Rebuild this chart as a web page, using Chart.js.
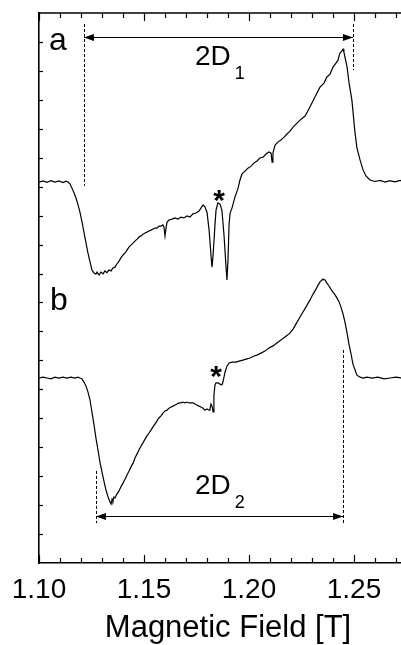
<!DOCTYPE html>
<html>
<head>
<meta charset="utf-8">
<script src="https://cdn.jsdelivr.net/npm/chart.js@4.4.1/dist/chart.umd.min.js"></script>
<style>
  html, body { margin: 0; padding: 0; background: #fff; overflow: hidden; }
  canvas { display: block; }
</style>
</head>
<body>
<canvas id="epr" width="420" height="645"></canvas>
<script>
// spectrum a (field in T, signal in arb. units)
const fieldA = [
  1.1000, 1.1019, 1.1038, 1.1057, 1.1076, 1.1095, 1.1114, 1.1129, 1.1138, 1.1148,
  1.1157, 1.1167, 1.1176, 1.1186, 1.1195, 1.1205, 1.1214, 1.1224, 1.1233, 1.1243,
  1.1252, 1.1262, 1.1271, 1.1276, 1.1286, 1.1295, 1.1305, 1.1314, 1.1324, 1.1333,
  1.1343, 1.1352, 1.1362, 1.1371, 1.1381, 1.1390, 1.1400, 1.1410, 1.1419, 1.1429,
  1.1438, 1.1448, 1.1457, 1.1467, 1.1476, 1.1486, 1.1495, 1.1505, 1.1514, 1.1524,
  1.1533, 1.1543, 1.1552, 1.1562, 1.1571, 1.1581, 1.1590, 1.1595, 1.1600, 1.1605,
  1.1610, 1.1619, 1.1633, 1.1648, 1.1662, 1.1676, 1.1690, 1.1705, 1.1719, 1.1733,
  1.1748, 1.1762, 1.1771, 1.1781, 1.1790, 1.1800, 1.1810, 1.1819, 1.1824, 1.1829,
  1.1838, 1.1843, 1.1852, 1.1862, 1.1871, 1.1881, 1.1890, 1.1895, 1.1900, 1.1905,
  1.1910, 1.1919, 1.1933, 1.1948, 1.1957, 1.1967, 1.1981, 1.1995, 1.2010, 1.2024,
  1.2038, 1.2052, 1.2067, 1.2081, 1.2095, 1.2105, 1.2110, 1.2114, 1.2124, 1.2138,
  1.2152, 1.2167, 1.2181, 1.2195, 1.2210, 1.2224, 1.2243, 1.2267, 1.2290, 1.2314,
  1.2338, 1.2357, 1.2371, 1.2386, 1.2400, 1.2414, 1.2424, 1.2433, 1.2443, 1.2448,
  1.2452, 1.2457, 1.2467, 1.2476, 1.2490, 1.2505, 1.2514, 1.2529, 1.2543, 1.2557,
  1.2576, 1.2600, 1.2624, 1.2648, 1.2671, 1.2695, 1.2719, 1.2743, 1.2767, 1.2800
];
const signalA = [
  13.16, 13.20, 13.15, 13.21, 13.16, 13.20, 13.14, 13.19, 13.16, 13.09,
  12.95, 12.78, 12.61, 12.37, 12.12, 11.78, 11.43, 11.05, 10.71, 10.40,
  10.12, 10.02, 9.98, 10.05, 9.95, 10.05, 9.99, 10.09, 10.03, 10.12,
  10.09, 10.19, 10.22, 10.33, 10.43, 10.54, 10.64, 10.71, 10.81, 10.92,
  10.98, 11.05, 11.12, 11.19, 11.26, 11.30, 11.36, 11.40, 11.43, 11.47,
  11.50, 11.54, 11.57, 11.57, 11.64, 11.64, 11.68, 11.61, 11.30, 11.57,
  11.78, 11.85, 11.88, 11.92, 11.88, 11.95, 11.92, 11.99, 11.95, 12.06,
  12.09, 12.16, 12.26, 12.37, 12.30, 12.12, 11.50, 10.64, 10.22, 10.64,
  11.68, 12.19, 12.44, 12.40, 12.19, 11.33, 10.29, 9.78, 10.47, 11.68,
  12.09, 12.26, 12.64, 12.95, 13.23, 13.44, 13.54, 13.64, 13.71, 13.82,
  13.89, 13.99, 14.02, 14.13, 14.20, 14.16, 13.85, 14.16, 14.44, 14.54,
  14.61, 14.71, 14.82, 14.92, 15.06, 15.16, 15.30, 15.44, 15.75, 16.10,
  16.44, 16.58, 16.79, 16.89, 17.13, 17.27, 17.37, 17.62, 17.69, 17.75,
  17.65, 17.48, 17.13, 16.61, 15.99, 14.85, 14.34, 13.92, 13.58, 13.37,
  13.23, 13.18, 13.22, 13.16, 13.21, 13.17, 13.22, 13.17, 13.20, 13.18
];

// spectrum b
const fieldB = [
  1.1000, 1.1019, 1.1038, 1.1057, 1.1076, 1.1095, 1.1114, 1.1133, 1.1152, 1.1171,
  1.1186, 1.1195, 1.1205, 1.1214, 1.1224, 1.1233, 1.1243, 1.1252, 1.1262, 1.1271,
  1.1281, 1.1290, 1.1300, 1.1310, 1.1319, 1.1329, 1.1338, 1.1343, 1.1348, 1.1352,
  1.1357, 1.1362, 1.1371, 1.1381, 1.1390, 1.1400, 1.1410, 1.1419, 1.1429, 1.1438,
  1.1448, 1.1457, 1.1467, 1.1476, 1.1486, 1.1495, 1.1505, 1.1514, 1.1524, 1.1533,
  1.1543, 1.1552, 1.1562, 1.1571, 1.1581, 1.1590, 1.1600, 1.1610, 1.1619, 1.1629,
  1.1638, 1.1648, 1.1657, 1.1667, 1.1676, 1.1686, 1.1695, 1.1705, 1.1714, 1.1724,
  1.1733, 1.1743, 1.1752, 1.1762, 1.1771, 1.1781, 1.1790, 1.1800, 1.1810, 1.1814,
  1.1819, 1.1824, 1.1829, 1.1833, 1.1838, 1.1843, 1.1852, 1.1862, 1.1871, 1.1876,
  1.1886, 1.1895, 1.1905, 1.1919, 1.1938, 1.1957, 1.1971, 1.1990, 1.2005, 1.2024,
  1.2038, 1.2057, 1.2076, 1.2095, 1.2114, 1.2133, 1.2152, 1.2171, 1.2195, 1.2210,
  1.2224, 1.2243, 1.2257, 1.2271, 1.2290, 1.2305, 1.2319, 1.2329, 1.2338, 1.2348,
  1.2352, 1.2362, 1.2371, 1.2381, 1.2390, 1.2400, 1.2410, 1.2419, 1.2429, 1.2438,
  1.2448, 1.2457, 1.2467, 1.2476, 1.2486, 1.2495, 1.2505, 1.2514, 1.2529, 1.2543,
  1.2562, 1.2586, 1.2614, 1.2643, 1.2671, 1.2700, 1.2729, 1.2757, 1.2800
];
const signalB = [
  6.39, 6.42, 6.39, 6.36, 6.42, 6.39, 6.42, 6.39, 6.42, 6.39,
  6.42, 6.39, 6.36, 6.25, 6.11, 5.91, 5.63, 5.22, 4.77, 4.32,
  3.90, 3.49, 3.14, 2.80, 2.52, 2.28, 2.11, 2.04, 2.21, 2.14,
  2.28, 2.25, 2.38, 2.49, 2.63, 2.76, 2.90, 3.04, 3.18, 3.32,
  3.45, 3.63, 3.77, 3.90, 4.04, 4.15, 4.28, 4.39, 4.49, 4.59,
  4.70, 4.80, 4.91, 5.01, 5.08, 5.18, 5.25, 5.28, 5.35, 5.39,
  5.42, 5.46, 5.49, 5.53, 5.53, 5.56, 5.53, 5.56, 5.53, 5.53,
  5.53, 5.49, 5.46, 5.42, 5.39, 5.35, 5.28, 5.32, 5.28, 5.32,
  5.49, 5.42, 5.22, 5.80, 6.15, 6.22, 6.22, 6.18, 6.15, 6.25,
  6.60, 6.80, 6.91, 6.94, 6.94, 6.98, 7.01, 7.05, 7.08, 7.15,
  7.18, 7.25, 7.32, 7.43, 7.50, 7.60, 7.70, 7.81, 7.94, 8.08,
  8.26, 8.50, 8.67, 8.84, 9.08, 9.29, 9.46, 9.60, 9.71, 9.78,
  9.81, 9.78, 9.67, 9.57, 9.46, 9.36, 9.26, 9.15, 9.02, 8.84,
  8.60, 8.32, 7.94, 7.56, 7.22, 6.87, 6.67, 6.49, 6.42, 6.39,
  6.42, 6.39, 6.42, 6.36, 6.39, 6.42, 6.39, 6.42, 6.39
];

// splitting markers (field positions of the 2D arrows)
const span1 = [1.1214, 1.2495];
const span2 = [1.1271, 1.2448];
const xTicks = [1.10, 1.15, 1.20, 1.25];

const FONT = '"Liberation Sans", Arial, sans-serif';

function toPoints(xs, ys) {
  return xs.map((x, i) => ({ x: x, y: ys[i] }));
}

function arrow(ctx, x1, x2, y) {
  ctx.beginPath();
  ctx.moveTo(x1, y);
  ctx.lineTo(x2, y);
  ctx.stroke();
  [[x1, 1], [x2, -1]].forEach(([px, d]) => {
    ctx.beginPath();
    ctx.moveTo(px, y);
    ctx.lineTo(px + d * 10, y - 3.5);
    ctx.lineTo(px + d * 10, y + 3.5);
    ctx.closePath();
    ctx.fill();
  });
}

function dashed(ctx, x, y1, y2) {
  const px = Math.round(x) + 0.5;
  ctx.save();
  ctx.setLineDash([3, 2]);
  ctx.lineWidth = 1;
  ctx.beginPath();
  ctx.moveTo(px, y1);
  ctx.lineTo(px, y2);
  ctx.stroke();
  ctx.restore();
}

// frame, inward ticks and labels
const decorations = {
  id: 'decorations',
  afterDraw(chart) {
    const { ctx, chartArea: a } = chart;
    const x = chart.scales.x, y = chart.scales.y;
    ctx.save();
    ctx.strokeStyle = '#000';
    ctx.fillStyle = '#000';

    // top frame line
    ctx.lineWidth = 1.6;
    ctx.beginPath();
    ctx.moveTo(a.left, a.top);
    ctx.lineTo(a.right, a.top);
    ctx.stroke();

    // minor / major ticks on x (top and bottom)
    ctx.lineWidth = 1.2;
    for (let i = 110; i <= 128; i++) {
      const px = Math.round(x.getPixelForValue(i / 100)) + 0.5;
      const len = i % 5 === 0 ? 8 : 5;
      ctx.beginPath();
      ctx.moveTo(px, a.bottom);
      ctx.lineTo(px, a.bottom - len);
      ctx.moveTo(px, a.top);
      ctx.lineTo(px, a.top + len);
      ctx.stroke();
    }
    // ticks on y
    for (let j = 1; j < 19; j++) {
      const py = Math.round(y.getPixelForValue(j)) + 0.5;
      ctx.beginPath();
      ctx.moveTo(a.left, py);
      ctx.lineTo(a.left + 4, py);
      ctx.stroke();
    }

    // 2D arrows
    ctx.lineWidth = 1;
    const yA = Math.round(y.getPixelForValue(18.17)) + 0.5;
    arrow(ctx, x.getPixelForValue(span1[0]), x.getPixelForValue(span1[1]), yA);
    dashed(ctx, x.getPixelForValue(span1[0]), y.getPixelForValue(18.62), y.getPixelForValue(13.02));
    dashed(ctx, x.getPixelForValue(span1[1]), y.getPixelForValue(18.62), y.getPixelForValue(17.03));

    const yB = Math.round(y.getPixelForValue(1.62)) + 0.5;
    arrow(ctx, x.getPixelForValue(span2[0]), x.getPixelForValue(span2[1]), yB);
    dashed(ctx, x.getPixelForValue(span2[0]), y.getPixelForValue(3.18), y.getPixelForValue(1.38));
    dashed(ctx, x.getPixelForValue(span2[1]), y.getPixelForValue(7.36), y.getPixelForValue(1.35));

    // texts
    ctx.textBaseline = 'alphabetic';
    ctx.textAlign = 'left';
    ctx.font = '32px ' + FONT;
    ctx.fillText('a', x.getPixelForValue(1.1048), y.getPixelForValue(17.72));
    ctx.fillText('b', x.getPixelForValue(1.1052), y.getPixelForValue(8.74));

    const sub = (main, s, px, py) => {
      ctx.font = '28px ' + FONT;
      ctx.fillText(main, px, py);
      const w = ctx.measureText(main).width;
      ctx.font = '18px ' + FONT;
      ctx.fillText(s, px + w + 4, py + 14);
    };
    sub('2D', '1', x.getPixelForValue(1.1743), y.getPixelForValue(17.22));
    sub('2D', '2', x.getPixelForValue(1.1743), y.getPixelForValue(2.40));

    ctx.textAlign = 'center';
    ctx.font = 'bold 30px ' + FONT;
    ctx.fillText('*', x.getPixelForValue(1.1857), y.getPixelForValue(12.20));
    ctx.fillText('*', x.getPixelForValue(1.1843), y.getPixelForValue(6.12));
    ctx.restore();
  }
};

const lineStyle = {
  showLine: true,
  borderColor: '#000',
  borderWidth: 1.2,
  pointRadius: 0,
  tension: 0,
  fill: false
};

new Chart(document.getElementById('epr'), {
  type: 'scatter',
  data: {
    datasets: [
      { label: 'a', data: toPoints(fieldA, signalA), ...lineStyle },
      { label: 'b', data: toPoints(fieldB, signalB), ...lineStyle }
    ]
  },
  options: {
    responsive: false,
    animation: false,
    events: [],
    layout: { padding: { top: 13, right: 3, left: 0, bottom: 0 } },
    plugins: { legend: { display: false }, tooltip: { enabled: false } },
    scales: {
      x: {
        type: 'linear',
        min: 1.10,
        max: 1.28,
        afterFit: (s) => { s.height = 82; },
        afterBuildTicks: (s) => { s.ticks = xTicks.map(v => ({ value: v })); },
        grid: { display: false, drawTicks: false },
        border: { display: true, color: '#000', width: 1.6 },
        ticks: {
          color: '#000',
          padding: 10,
          autoSkip: false,
          maxRotation: 0,
          font: { family: FONT, size: 28 },
          callback: (v) => Number(v).toFixed(2)
        },
        title: {
          display: true,
          text: 'Magnetic Field [T]',
          color: '#000',
          padding: { top: 0, bottom: -2 },
          font: { family: FONT, size: 31 }
        }
      },
      y: {
        min: 0,
        max: 19,
        afterFit: (s) => { s.width = 39; },
        grid: { display: false, drawTicks: false },
        border: { display: true, color: '#000', width: 1.6 },
        ticks: { display: false }
      }
    }
  },
  plugins: [decorations]
});
</script>
</body>
</html>
